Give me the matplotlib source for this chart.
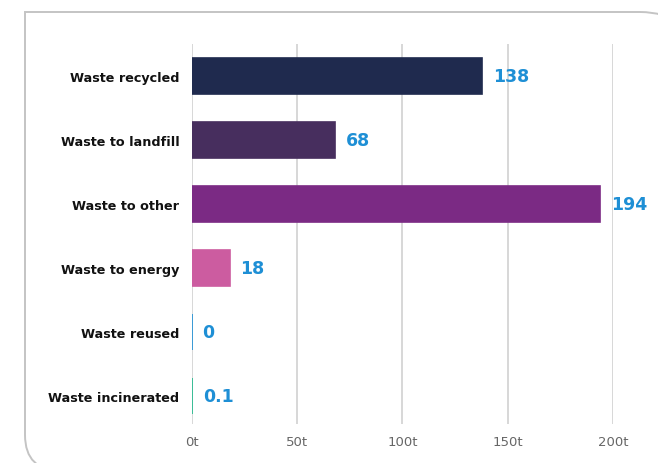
import matplotlib
matplotlib.use("Agg")
import matplotlib.pyplot as plt
from matplotlib.path import Path
from matplotlib.patches import PathPatch

# data
categories = ["Waste recycled", "Waste to landfill", "Waste to other",
              "Waste to energy", "Waste reused", "Waste incinerated"]
values = [138, 68, 194, 18, 0, 0.1]
value_labels = ["138", "68", "194", "18", "0", "0.1"]
colors = ["#1f2a4e", "#472e5e", "#7b2a84", "#cc5ca0", "#1e8fd5", "#1fb88a"]
ticks = [0, 50, 100, 150, 200]
tick_labels = ["0t", "50t", "100t", "150t", "200t"]

W, H = 658, 464
fig = plt.figure(figsize=(W / 100, H / 100), dpi=100)

# card border: square top-left, rounded top-right and bottom-left
pts = [(690, 60), (690, 13), (640, 13),
       (25, 13), (25, 436), (25, 472), (62, 472), (700, 472)]
codes = [Path.MOVETO, Path.CURVE3, Path.CURVE3,
         Path.LINETO, Path.LINETO, Path.CURVE3, Path.CURVE3, Path.LINETO]
pts = [(x / W, 1 - y / H) for x, y in pts]
border = PathPatch(Path(pts, codes), transform=fig.transFigure, fill=False,
                   edgecolor="#c4c4c4", linewidth=1.4)
fig.patches.append(border)

ax = fig.add_axes([192 / W, 1 - 425 / H, 421 / W, 380 / H])
pos = list(range(len(categories)))
ax.barh(pos, values, height=0.56, color=colors, edgecolor=colors,
        linewidth=1.2, zorder=3)

for p, v, lab in zip(pos, values, value_labels):
    ax.text(v + 5, p, lab, va="center", ha="left", color="#1e8fd5",
            fontsize=12.5, fontweight="bold", clip_on=False, zorder=4)

ax.set_xlim(0, 200)
ax.set_ylim(5.44, -0.5)
ax.set_yticks(pos)
ax.set_yticklabels(categories, fontsize=9.2, fontweight="bold", color="#111111")
ax.set_xticks(ticks)
ax.set_xticklabels(tick_labels, fontsize=9.5, color="#666666")
ax.tick_params(axis="both", length=0)
ax.tick_params(axis="y", pad=9)
ax.tick_params(axis="x", pad=8)
ax.grid(axis="x", color="#d4d4d4", linewidth=1.3, zorder=0)
for s in ax.spines.values():
    s.set_visible(False)

fig.savefig("out.png", dpi=100)
